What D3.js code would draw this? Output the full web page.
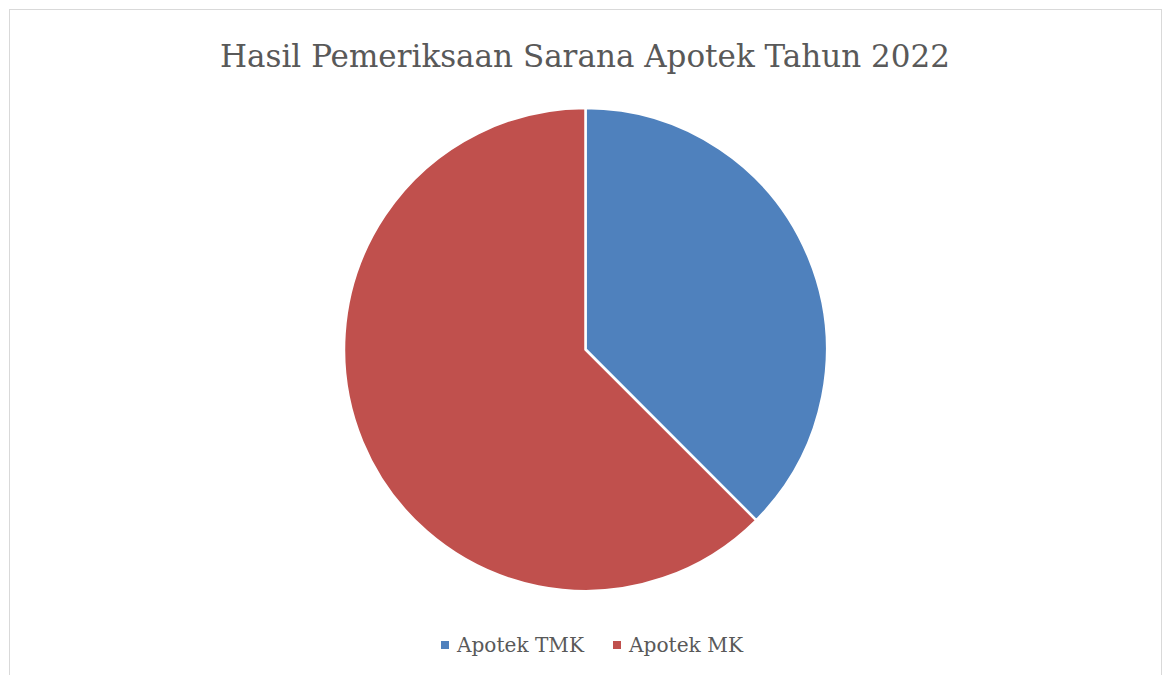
<!DOCTYPE html>
<html lang="id">
<head>
<meta charset="UTF-8">
<title>Hasil Pemeriksaan Sarana Apotek Tahun 2022</title>
<script src="https://d3js.org/d3.v7.min.js"></script>
<style>
    * { margin: 0; padding: 0; box-sizing: border-box; }
    html, body { width: 1166px; height: 675px; background: #fff; overflow: hidden; }
    svg text { font-family: "DejaVu Serif", "Liberation Serif", serif; fill: #595959; }
</style>
</head>
<body>
<svg id="chart" width="1166" height="675"></svg>
<script>
    // data
    const titleText = "Hasil Pemeriksaan Sarana Apotek Tahun 2022";
    const categories = ["Apotek TMK", "Apotek MK"];
    const values = [15, 25];
    const colors = ["#4f81bd", "#c0504d"];

    const width = 1166, height = 675;
    const svg = d3.select("#chart");

    // chart frame
    svg.append("rect")
        .attr("x", 9.5).attr("y", 9.5)
        .attr("width", 1152).attr("height", 700)
        .attr("fill", "#fff")
        .attr("stroke", "#d9d9d9")
        .attr("stroke-width", 1);

    // fit a text element to a target width
    function fitText(sel, targetWidth) {
        const w = sel.node().getComputedTextLength();
        const fs = parseFloat(sel.attr("font-size"));
        sel.attr("font-size", fs * targetWidth / w);
    }

    const title = svg.append("text")
        .attr("x", 585)
        .attr("y", 67)
        .attr("text-anchor", "middle")
        .attr("font-size", 32)
        .text(titleText);
    fitText(title, 730);

    // pie
    const cx = 585.5, cy = 349.5, r = 241.5;
    const pie = d3.pie().sort(null).value(d => d)(values);
    const arc = d3.arc().innerRadius(0).outerRadius(r);

    svg.append("g")
        .attr("transform", `translate(${cx},${cy})`)
        .selectAll("path")
        .data(pie)
        .join("path")
        .attr("d", arc)
        .attr("fill", (d, i) => colors[i])
        .attr("stroke", "#fff")
        .attr("stroke-width", 2.5)
        .attr("stroke-linejoin", "round");

    // legend
    const legendX = [441, 613];
    const legend = svg.append("g");
    categories.forEach((c, i) => {
        legend.append("rect")
            .attr("x", legendX[i]).attr("y", 641)
            .attr("width", 8).attr("height", 8)
            .attr("fill", colors[i]);
        const t = legend.append("text")
            .attr("x", legendX[i] + 16)
            .attr("y", 652)
            .attr("font-size", 20)
            .text(c);
        fitText(t, i === 0 ? 127 : 114);
    });
</script>
</body>
</html>
